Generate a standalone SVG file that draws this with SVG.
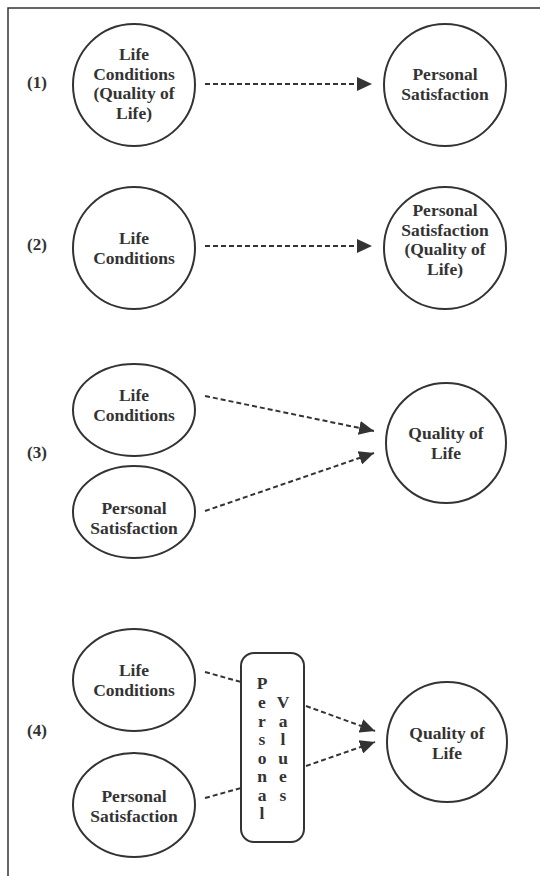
<svg xmlns="http://www.w3.org/2000/svg" width="540" height="876" viewBox="0 0 540 876">
<defs>
<style>
.n{fill:#fff;stroke:#333;stroke-width:2}
.t{font-family:"Liberation Serif","Times New Roman",serif;font-weight:bold;font-size:17.5px;fill:#333;text-anchor:middle}
.lbl{font-family:"Liberation Serif","Times New Roman",serif;font-weight:bold;font-size:17px;fill:#333;text-anchor:middle}
.c{fill:none;stroke:#333;stroke-width:2;stroke-dasharray:5 3}
.frame{fill:none;stroke:#333;stroke-width:1.5}
</style>
<marker id="ah" markerUnits="userSpaceOnUse" markerWidth="16" markerHeight="14" refX="15" refY="7" orient="auto">
<path d="M0,0 L15,7 L0,14 Z" fill="#333"/>
</marker>
</defs>
<rect width="540" height="876" fill="#fff"/>
<path class="frame" d="M8,876 V8 H540"/>

<g id="labels">
<text class="lbl" x="37" y="88">(1)</text>
<text class="lbl" x="37" y="250">(2)</text>
<text class="lbl" x="37" y="458">(3)</text>
<text class="lbl" x="37" y="736">(4)</text>
</g>

<g id="n1-life-conditions">
<circle class="n" cx="134" cy="85" r="61"/>
<text class="t"><tspan x="134" y="60">Life</tspan><tspan x="134" y="79.5">Conditions</tspan><tspan x="134" y="99">(Quality of</tspan><tspan x="134" y="118.5">Life)</tspan></text>
</g>
<g id="n1-personal-satisfaction">
<circle class="n" cx="445" cy="85" r="61"/>
<text class="t"><tspan x="445" y="80">Personal</tspan><tspan x="445" y="99.5">Satisfaction</tspan></text>
</g>

<g id="n2-life-conditions">
<circle class="n" cx="134" cy="248" r="61"/>
<text class="t"><tspan x="134" y="244">Life</tspan><tspan x="134" y="263.5">Conditions</tspan></text>
</g>
<g id="n2-personal-satisfaction">
<circle class="n" cx="445" cy="248" r="61"/>
<text class="t"><tspan x="445" y="216">Personal</tspan><tspan x="445" y="235.5">Satisfaction</tspan><tspan x="445" y="255">(Quality of</tspan><tspan x="445" y="274.5">Life)</tspan></text>
</g>

<g id="n3-life-conditions">
<ellipse class="n" cx="134" cy="410" rx="61" ry="46"/>
<text class="t"><tspan x="134" y="401">Life</tspan><tspan x="134" y="420.5">Conditions</tspan></text>
</g>
<g id="n3-personal-satisfaction">
<ellipse class="n" cx="134" cy="512" rx="61" ry="46"/>
<text class="t"><tspan x="134" y="514">Personal</tspan><tspan x="134" y="533.5">Satisfaction</tspan></text>
</g>
<g id="n3-quality-of-life">
<circle class="n" cx="446" cy="443" r="60"/>
<text class="t"><tspan x="446" y="439">Quality of</tspan><tspan x="446" y="458.5">Life</tspan></text>
</g>

<g id="n4-life-conditions">
<ellipse class="n" cx="134" cy="680" rx="61" ry="51"/>
<text class="t"><tspan x="134" y="676">Life</tspan><tspan x="134" y="695.5">Conditions</tspan></text>
</g>
<g id="n4-personal-satisfaction">
<ellipse class="n" cx="134" cy="805" rx="61" ry="52"/>
<text class="t"><tspan x="134" y="802">Personal</tspan><tspan x="134" y="821.5">Satisfaction</tspan></text>
</g>
<g id="n4-personal-values">
<rect class="n" x="241" y="653" width="63" height="189" rx="13"/>
<text class="t" font-size="18"><tspan x="262" y="689">P</tspan><tspan x="262" y="708">e</tspan><tspan x="262" y="726.5">r</tspan><tspan x="262" y="745">s</tspan><tspan x="262" y="763.5">o</tspan><tspan x="262" y="782">n</tspan><tspan x="262" y="800.5">a</tspan><tspan x="262" y="819">l</tspan></text>
<text class="t" font-size="18"><tspan x="283" y="708">V</tspan><tspan x="283" y="726.5">a</tspan><tspan x="283" y="745">l</tspan><tspan x="283" y="763.5">u</tspan><tspan x="283" y="782">e</tspan><tspan x="283" y="800.5">s</tspan></text>
</g>
<g id="n4-quality-of-life">
<circle class="n" cx="447" cy="742" r="60"/>
<text class="t"><tspan x="447" y="739">Quality of</tspan><tspan x="447" y="758.5">Life</tspan></text>
</g>

<g id="connectors">
<line class="c" x1="205" y1="84" x2="372" y2="84" marker-end="url(#ah)"/>
<line class="c" x1="205" y1="246" x2="372" y2="246" marker-end="url(#ah)"/>
<line class="c" x1="205" y1="396" x2="374" y2="431" marker-end="url(#ah)"/>
<line class="c" x1="205" y1="511" x2="374" y2="453" marker-end="url(#ah)"/>
<line class="c" x1="205" y1="672" x2="241" y2="682"/>
<line class="c" x1="205" y1="798" x2="241" y2="788"/>
<line class="c" x1="306" y1="706" x2="375" y2="731" marker-end="url(#ah)"/>
<line class="c" x1="306" y1="766" x2="375" y2="742" marker-end="url(#ah)"/>
</g>
</svg>
